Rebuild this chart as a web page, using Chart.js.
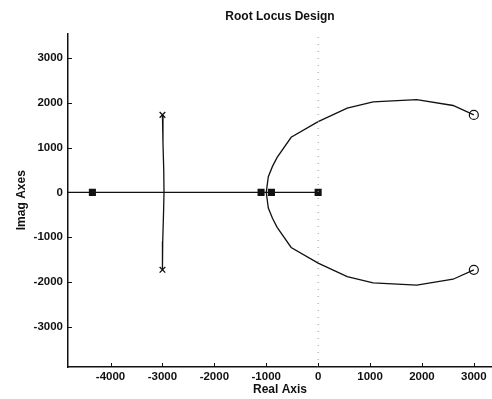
<!DOCTYPE html>
<html>
<head>
<meta charset="utf-8">
<script src="https://cdn.jsdelivr.net/npm/chart.js@4.4.0/dist/chart.umd.min.js"></script>
<style>
  html, body { margin: 0; padding: 0; background: #fff; }
  #wrap { width: 492px; height: 399px; }
</style>
</head>
<body>
<div id="wrap"><canvas id="rootLocusChart"></canvas></div>
<script>
// axis limits and ticks
const xLimits = [-4820, 3350];
const yLimits = [-3900, 3550];
const xTicks = [-4000, -3000, -2000, -1000, 0, 1000, 2000, 3000];
const yTicks = [-3000, -2000, -1000, 0, 1000, 2000, 3000];

// open loop poles (x) and zeros (o)
const polesX = [-3000, -3000];
const polesY = [1730, -1730];
const zerosX = [3000, 3000];
const zerosY = [1730, -1730];

// closed loop poles (filled squares)
const closedX = [-4350, -1100, -900, 0];
const closedY = [0, 0, 0, 0];

// locus along the real axis
const realLocusX = [-4820, 0];
const realLocusY = [0, 0];

// short branch between the complex poles
const poleBranchX = [-3000, -2990, -2975, -2970, -2980, -2995, -3000];
const poleBranchY = [1730, 1100, 500, 0, -500, -1100, -1730];

// big branch going to the zeros (upper half, lower is the mirror)
const arcX = [-1000, -960, -880, -790, -520, 0, 560, 1060, 1900, 2600, 3000];
const arcY = [0, 350, 580, 780, 1230, 1580, 1880, 2020, 2070, 1940, 1730];

function toPoints(xs, ys) {
  return xs.map((x, i) => ({ x: x, y: ys[i] }));
}

const lineStyle = {
  showLine: true,
  borderColor: "#111",
  borderWidth: 1.3,
  pointRadius: 0,
  fill: false,
};

// draw inward tick marks like the original figure
const inwardTicks = {
  id: "inwardTicks",
  afterDraw(chart) {
    const ctx = chart.ctx;
    const area = chart.chartArea;
    const xs = chart.scales.x;
    const ys = chart.scales.y;
    ctx.save();
    ctx.strokeStyle = "#111";
    ctx.lineWidth = 1;
    ctx.beginPath();
    xTicks.forEach((v) => {
      const px = Math.round(xs.getPixelForValue(v)) + 0.5;
      ctx.moveTo(px, area.bottom);
      ctx.lineTo(px, area.bottom - 4);
    });
    yTicks.forEach((v) => {
      const py = Math.round(ys.getPixelForValue(v)) + 0.5;
      ctx.moveTo(area.left, py);
      ctx.lineTo(area.left + 4, py);
    });
    ctx.stroke();
    ctx.restore();
  },
};

const tickFont = { family: "Liberation Sans", size: 11.5, weight: "bold" };
const titleFont = { family: "Liberation Sans", size: 12, weight: "bold" };

const ctx = document.getElementById("rootLocusChart").getContext("2d");
const rootLocusChart = new Chart(ctx, {
  type: "scatter",
  data: {
    datasets: [
      {
        // dotted imaginary axis
        data: [{ x: 0, y: yLimits[0] }, { x: 0, y: yLimits[1] }],
        showLine: true,
        borderColor: "#999",
        borderWidth: 1,
        borderDash: [1, 6],
        pointRadius: 0,
      },
      Object.assign({ data: toPoints(realLocusX, realLocusY) }, lineStyle),
      Object.assign({ data: toPoints(poleBranchX, poleBranchY) }, lineStyle),
      Object.assign({ data: toPoints(arcX, arcY) }, lineStyle),
      Object.assign({ data: toPoints(arcX, arcY.map((v) => -v)) }, lineStyle),
      {
        data: toPoints(polesX, polesY),
        pointStyle: "crossRot",
        pointRadius: 4,
        borderColor: "#111",
        borderWidth: 1.3,
      },
      {
        data: toPoints(zerosX, zerosY),
        pointStyle: "circle",
        pointRadius: 4.5,
        backgroundColor: "#fff",
        borderColor: "#111",
        borderWidth: 1.2,
      },
      {
        data: toPoints(closedX, closedY),
        pointStyle: "rect",
        pointRadius: 5,
        backgroundColor: "#111",
        borderColor: "#111",
        borderWidth: 0,
      },
    ],
  },
  options: {
    responsive: true,
    maintainAspectRatio: false,
    animation: false,
    layout: { autoPadding: false, padding: 0 },
    plugins: {
      legend: { display: false },
      tooltip: { enabled: false },
      title: {
        display: true,
        text: "Root Locus Design",
        fullSize: false,
        color: "#111",
        font: titleFont,
        padding: { top: 9, bottom: 10 },
      },
    },
    scales: {
      x: {
        type: "linear",
        min: xLimits[0],
        max: xLimits[1],
        afterBuildTicks: (scale) => {
          scale.ticks = xTicks.map((v) => ({ value: v }));
        },
        afterFit: (scale) => {
          scale.height = 32;
          scale.paddingLeft = 0;
          scale.paddingRight = 0;
        },
        grid: { display: true, drawOnChartArea: false, drawTicks: false },
        border: { display: true, color: "#111", width: 1.5 },
        ticks: {
          padding: 3,
          color: "#111",
          maxRotation: 0,
          autoSkip: false,
          font: tickFont,
          callback: (v) => String(v),
        },
        title: {
          display: true,
          text: "Real Axis",
          color: "#111",
          font: titleFont,
          padding: { top: 2, bottom: 2 },
        },
      },
      y: {
        type: "linear",
        min: yLimits[0],
        max: yLimits[1],
        afterBuildTicks: (scale) => {
          scale.ticks = yTicks.map((v) => ({ value: v }));
        },
        afterFit: (scale) => {
          scale.width = 68;
          scale.paddingTop = 0;
          scale.paddingBottom = 0;
        },
        grid: { display: true, drawOnChartArea: false, drawTicks: false },
        border: { display: true, color: "#111", width: 1.5 },
        ticks: {
          padding: 5,
          color: "#111",
          autoSkip: false,
          font: tickFont,
          callback: (v) => String(v),
        },
        title: {
          display: true,
          text: "Imag Axes",
          color: "#111",
          font: titleFont,
          padding: { top: 14, bottom: 4 },
        },
      },
    },
  },
  plugins: [inwardTicks],
});
</script>
</body>
</html>
